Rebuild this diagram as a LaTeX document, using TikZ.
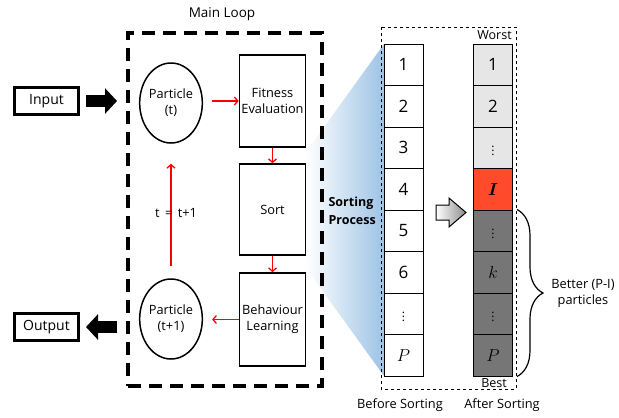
\documentclass[tikz,border=0pt]{standalone}
\usepackage{fontspec}
\setmainfont{Open Sans}
\usepackage{amsmath}
\usetikzlibrary{shapes.geometric, positioning, arrows.meta, decorations.pathreplacing}
\definecolor{SortBlue}{HTML}{9DC3E6}
\definecolor{WorstGray}{HTML}{E6E6E6}
\definecolor{BetterGray}{HTML}{767676}
\definecolor{LimitRed}{HTML}{FF4B2B}
\newcommand{\celldots}{{\fontsize{12}{12}\selectfont$\vdots$}}

\begin{document}
\begin{tikzpicture}[x=1pt, y=-1pt,
            stepbox/.style={draw, line width=1.6pt, minimum width=66pt, align=center, inner sep=0pt, font=\fontsize{12.8}{16}\selectfont},
            particle/.style={draw, ellipse, line width=1.5pt, minimum width=60pt, minimum height=80pt, align=center, inner sep=0pt, font=\fontsize{12.8}{16}\selectfont},
            iobox/.style={draw, line width=3pt, minimum width=64pt, minimum height=27pt, font=\fontsize{14}{16}\selectfont},
            cell/.style={draw, line width=1pt, minimum width=39pt, minimum height=41.5pt, inner sep=0pt, font=\fontsize{17}{18}\selectfont},
            flow/.style={-{Straight Barb[length=3.5pt, width=8pt]}, red, line width=1.3pt},
            bigarrow/.style={line width=12pt, -{Triangle[length=12pt, width=25pt]}},
            caption/.style={font=\fontsize{12.8}{16}\selectfont}
        ]
            \useasboundingbox (0,0) rectangle (619,418);

            % Sorting process (fan towards the list)
            \shade[left color=white, right color=SortBlue] (306,152) -- (384,44) -- (384,376) -- (306,268) -- cycle;

            % Main loop
            \node[font=\fontsize{13.5}{16}\selectfont] (title) at (222,14) {Main Loop};
            \node[draw, line width=4pt, dash pattern=on 13pt off 8pt, minimum width=194pt, minimum height=353pt] (loop) at (225,209.5) {};
            \node[particle] (pt) at (171,103) {Particle\\(t)};
            \node[particle] (pt1) at (171,319) {Particle\\(t+1)};
            \node[stepbox, minimum height=92pt] (fit) at (272.5,101) {Fitness\\Evaluation};
            \node[stepbox, minimum height=91pt] (sort) at (272.5,209.5) {Sort};
            \node[stepbox, minimum height=93pt] (learn) at (272.5,319.5) {Behaviour\\Learning};

            \draw[flow, shorten <=9pt] (pt.east |- fit.west) -- (fit.west);
            \draw[flow] (fit) -- (sort);
            \draw[flow] (sort) -- (learn);
            \draw[flow, shorten >=9pt] (learn.west) -- (learn.west -| pt1.east);
            \draw[flow, shorten <=12pt, shorten >=20pt] (pt1) -- (pt);
            \node[caption] (incr) at (176,213) {t \,=\, t+1};

            % Input / output
            \node[iobox] (input) at (46.5,101) {Input};
            \node[iobox] (output) at (46.5,327) {Output};
            \draw[bigarrow, shorten <=6pt, shorten >=9pt] (input.east) -- (input.east -| loop.west);
            \draw[bigarrow, shorten <=9pt, shorten >=6pt] (output.east -| loop.west) -- (output.east);

            \node[anchor=west, align=left, font=\bfseries\fontsize{12.5}{18}\selectfont] (sorting) at (325,211) {Sorting\\Process};

            % Lists before and after sorting
            \draw[dashed, line width=0.9pt] (381,27) rectangle (516,389);
            \foreach \i/\lab in {1/1, 2/2, 3/3, 4/4, 5/5, 6/6, 7/\celldots, 8/{$P$}}
                \node[cell, fill=white] (b\i) at (403.5,23.25+41.5*\i) {\lab};
            \foreach \i/\lab/\col in {1/1/WorstGray, 2/2/WorstGray, 3/\celldots/WorstGray, 4/{$\boldsymbol{I}$}/LimitRed,
                                      5/\celldots/BetterGray, 6/{$k$}/BetterGray, 7/\celldots/BetterGray, 8/{$P$}/BetterGray}
                \node[cell, fill=\col] (a\i) at (493,23.25+41.5*\i) {\lab};

            \node[font=\fontsize{12.5}{14}\selectfont] (worst) at (494.5,35) {Worst};
            \node[font=\fontsize{12.5}{14}\selectfont] (best) at (494,383) {Best};
            \node[caption] (before) at (400,405) {Before Sorting};
            \node[caption] (after) at (502,405) {After Sorting};

            % Sorting arrow
            \draw[line width=1pt, left color=white, right color=black!45] (436,205) -- (449,205) -- (449,198) -- (466,212.5) -- (449,227) -- (449,220) -- (436,220) -- cycle;

            % Better particles
            \draw[decorate, decoration={brace, amplitude=26pt, aspect=0.5}, line width=1.2pt] ([xshift=4pt]a5.north east) -- ([xshift=4pt]a8.south east);
            \node[caption, align=center] (better) at (583,293) {Better (P-I)\\particles};
        \end{tikzpicture}
\end{document}
